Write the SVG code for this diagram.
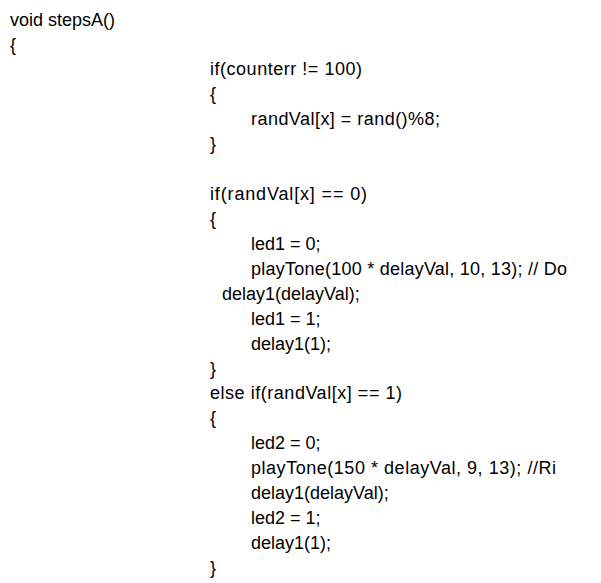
<svg xmlns="http://www.w3.org/2000/svg" width="601" height="583" viewBox="0 0 601 583">
<style>text{font-family:"Liberation Sans","DejaVu Sans",sans-serif;font-size:18px;fill:#000}</style>
<rect width="601" height="583" fill="#fff"/>
<text x="10" y="26" textLength="105">void stepsA()</text>
<text x="10" y="51">{</text>
<text x="210" y="75" textLength="152">if(counterr != 100)</text>
<text x="210" y="100">{</text>
<text x="251" y="125" textLength="189">randVal[x] = rand()%8;</text>
<text x="210" y="150">}</text>
<text x="210" y="200" textLength="157">if(randVal[x] == 0)</text>
<text x="210" y="225">{</text>
<text x="251" y="250">led1 = 0;</text>
<text x="251" y="275" textLength="316">playTone(100 * delayVal, 10, 13); // Do</text>
<text x="222" y="300">delay1(delayVal);</text>
<text x="251" y="325">led1 = 1;</text>
<text x="251" y="350">delay1(1);</text>
<text x="210" y="375">}</text>
<text x="210" y="399" textLength="192">else if(randVal[x] == 1)</text>
<text x="210" y="424">{</text>
<text x="251" y="449">led2 = 0;</text>
<text x="251" y="474" textLength="305">playTone(150 * delayVal, 9, 13); //Ri</text>
<text x="251" y="499">delay1(delayVal);</text>
<text x="251" y="524">led2 = 1;</text>
<text x="251" y="549">delay1(1);</text>
<text x="210" y="574">}</text>
</svg>
